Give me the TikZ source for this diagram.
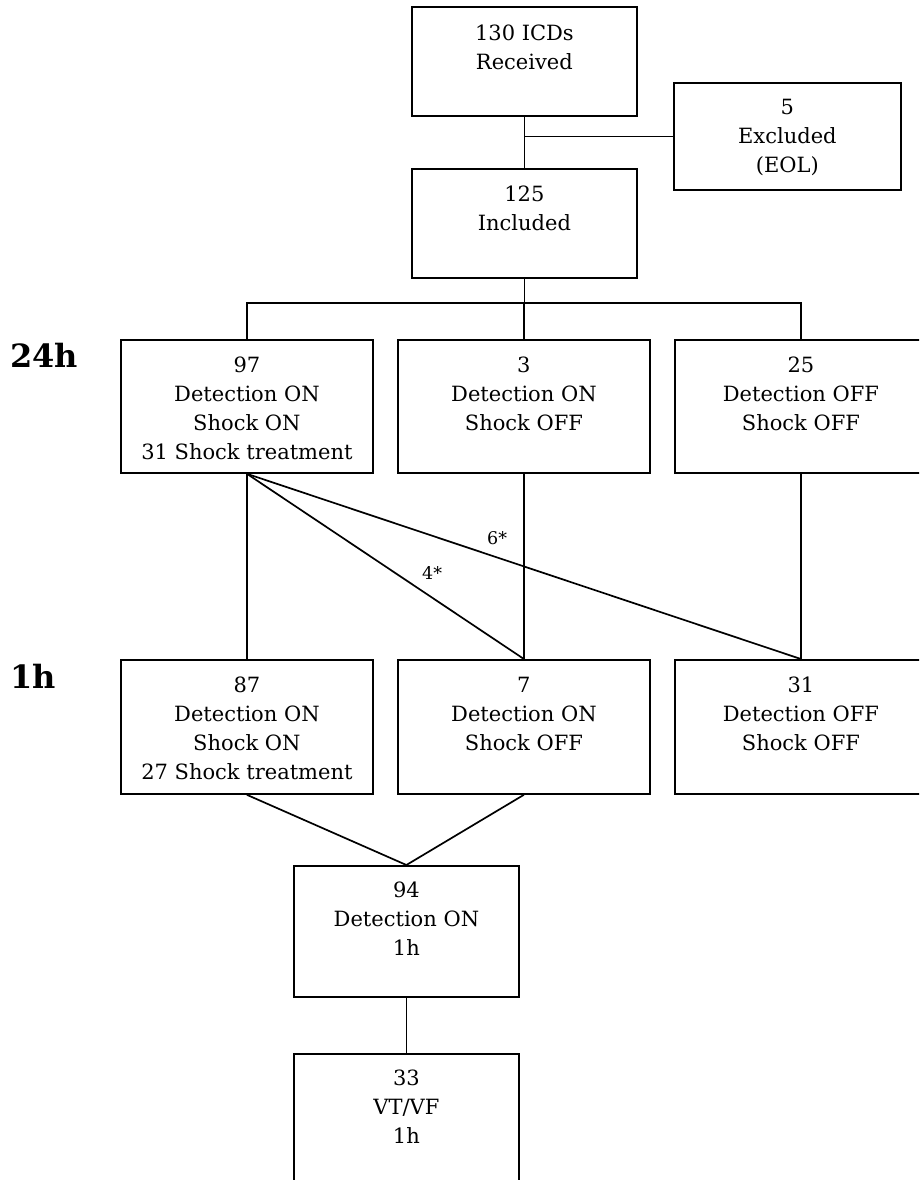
\documentclass[tikz,border=0pt]{standalone}
\usepackage{fontspec}
\setmainfont{DejaVu Serif}
\begin{document}
\begin{tikzpicture}[x=1pt,y=-1pt,
  box/.style={draw=black, line width=1.8pt, rectangle, inner sep=0pt, anchor=north west},
  txt/.style={align=center, inner sep=0pt, anchor=north, font=\fontsize{21}{28.8}\selectfont},
  conn/.style={line width=1.7pt, draw=black},
  tlabel/.style={font=\fontsize{32}{36}\selectfont\bfseries, inner sep=0pt, anchor=base west},
  small/.style={font=\fontsize{17.5}{20}\selectfont, inner sep=0pt, anchor=base west}]
\useasboundingbox (0,0) rectangle (919,1180);
\clip (0,0) rectangle (919,1180);
\fill[white] (0,0) rectangle (919,1180);

% boxes
\node[box, minimum width=225pt, minimum height=109pt] (b130) at (411,6) {};
\node[box, minimum width=227pt, minimum height=107pt] (bex) at (673,82) {};
\node[box, minimum width=225pt, minimum height=109pt] (b125) at (411,168) {};
\node[box, minimum width=252pt, minimum height=133pt] (b97) at (120,339) {};
\node[box, minimum width=252pt, minimum height=133pt] (b3) at (397,339) {};
\node[box, minimum width=252pt, minimum height=133pt] (b25) at (674,339) {};
\node[box, minimum width=252pt, minimum height=134pt] (b87) at (120,659) {};
\node[box, minimum width=252pt, minimum height=134pt] (b7) at (397,659) {};
\node[box, minimum width=252pt, minimum height=134pt] (b31) at (674,659) {};
\node[box, minimum width=225pt, minimum height=131pt] (b94) at (293,865) {};
\node[box, minimum width=225pt, minimum height=131pt] (b33) at (293,1053) {};

% texts
\node[txt] (t130) at ([yshift=-19pt]b130.north) {130 ICDs\\Received};
\node[txt] (tex) at ([yshift=-17pt]bex.north) {5\\Excluded\\(EOL)};
\node[txt] (t125) at ([yshift=-18pt]b125.north) {125\\Included};
\node[txt] (t97) at ([yshift=-18pt]b97.north) {97\\Detection ON\\Shock ON\\31 Shock treatment};
\node[txt] (t3) at ([yshift=-18pt]b3.north) {3\\Detection ON\\Shock OFF};
\node[txt] (t25) at ([yshift=-18pt]b25.north) {25\\Detection OFF\\Shock OFF};
\node[txt] (t87) at ([yshift=-18pt]b87.north) {87\\Detection ON\\Shock ON\\27 Shock treatment};
\node[txt] (t7) at ([yshift=-18pt]b7.north) {7\\Detection ON\\Shock OFF};
\node[txt] (t31) at ([yshift=-18pt]b31.north) {31\\Detection OFF\\Shock OFF};
\node[txt] (t94) at ([yshift=-17pt]b94.north) {94\\Detection ON\\1h};
\node[txt] (t33) at ([yshift=-17pt]b33.north) {33\\VT/VF\\1h};

% time labels
\node[tlabel] (l24) at (10,367) {24h};
\node[tlabel] (l1) at (10,688) {1h};

% connectors
\coordinate (bar) at (0,303);
\draw[conn] (b130.south) -- (b125.north);
\draw[conn] (b130.south |- bex.west) -- (bex.west);
\draw[conn] (b125.south) -- (b125.south |- bar);
\draw[conn] (b97.north) -- (b97.north |- bar) -- (b25.north |- bar) -- (b25.north);
\draw[conn] (b3.north) -- (b3.north |- bar);
\draw[conn] (b97.south) -- (b87.north);
\draw[conn] (b3.south) -- (b7.north);
\draw[conn] (b25.south) -- (b31.north);
\draw[conn] (b97.south) -- (b7.north);
\draw[conn] (b97.south) -- (b31.north);
\draw[conn] (b87.south) -- (b94.north);
\draw[conn] (b7.south) -- (b94.north);
\draw[conn] (b94.south) -- (b33.north);

\node[small] (l6) at (487,544) {6*};
\node[small] (l4) at (422,579) {4*};
\end{tikzpicture}
\end{document}
